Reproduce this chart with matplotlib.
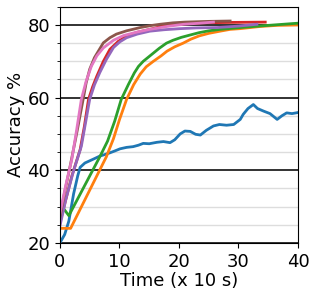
import numpy as np
import matplotlib.pyplot as plt
from matplotlib.ticker import MultipleLocator

# curves (time in units of 10 s, accuracy in %)
blue_t = [0, 0.8, 1.5, 2.3, 3.0, 3.4, 4.2, 5.0, 5.8, 6.7, 7.5, 8.4, 9.2, 10.1, 11.2, 12.3, 13.2,
          14.0, 15.0, 16.3, 17.4, 18.5, 19.3, 20.2, 21.0, 21.9, 22.8, 23.6, 24.6, 25.8, 26.8,
          28.0, 29.2, 30.3, 30.8, 31.6, 32.5, 33.2, 34.2, 35.3, 36.5, 37.3, 38.1, 39.0, 40.0]
blue_y = [20.0, 22.3, 26.0, 33.5, 38.5, 40.8, 42.0, 42.6, 43.2, 43.9, 44.3, 44.8, 45.3, 45.9,
          46.3, 46.5, 46.9, 47.4, 47.3, 47.7, 47.9, 47.6, 48.4, 50.0, 50.8, 50.7, 49.9, 49.7,
          51.0, 52.2, 52.6, 52.4, 52.6, 54.0, 55.4, 57.0, 58.1, 57.0, 56.3, 55.6, 54.0, 55.0,
          55.8, 55.6, 55.9]

orange_t = [0, 1.8, 7.8, 9.0, 10.0, 11.2, 12.4, 13.5, 14.5, 15.7, 17.0, 18.0, 19.3, 20.7,
            22.0, 23.4, 25.0, 26.9, 28.6, 30.3, 32.0, 33.7, 36.5, 40.0]
orange_y = [24.0, 24.0, 43.7, 48.7, 53.9, 59.5, 63.6, 66.5, 68.5, 70.0, 71.5, 72.8, 74.0, 75.0,
            76.1, 77.0, 77.7, 78.3, 78.8, 79.0, 79.3, 79.6, 79.9, 80.0]

green_t = [0, 1.5, 6.7, 8.0, 9.2, 10.3, 11.5, 12.5, 13.2, 14.0, 15.5, 16.7, 17.9, 19.0, 20.4,
           22.0, 23.4, 25.0, 26.9, 30.3, 35.0, 40.0]
green_y = [30.8, 27.5, 43.7, 48.0, 53.5, 59.5, 63.6, 66.8, 68.6, 70.0, 72.0, 73.6, 75.0, 75.8,
           76.6, 77.3, 77.9, 78.4, 78.8, 79.3, 79.9, 80.5]

red_t = [0, 1.0, 2.0, 3.4, 4.1, 4.8, 5.5, 6.2, 7.3, 8.4, 9.8, 11.2, 13.0, 15.1, 17.0, 19.1,
         21.5, 23.6, 28.0, 34.5]
red_y = [25.5, 32.0, 38.4, 45.7, 52.0, 59.5, 63.0, 65.9, 70.0, 73.3, 75.5, 77.0, 78.0, 78.8,
         79.6, 80.2, 80.4, 80.6, 80.7, 80.8]

purple_t = [0, 1.0, 2.2, 3.6, 4.3, 5.0, 5.8, 6.7, 7.8, 9.0, 10.1, 11.2, 13.0, 15.1, 17.5, 20.2,
            23.0, 26.4, 30.0, 33.1]
purple_y = [24.6, 32.0, 39.3, 46.6, 53.0, 59.5, 63.5, 66.9, 70.5, 73.8, 75.4, 76.5, 77.5, 78.3,
            78.7, 79.0, 79.2, 79.3, 79.7, 80.2]

brown_t = [0, 0.8, 1.7, 2.8, 3.9, 4.4, 5.0, 5.8, 7.3, 8.4, 9.5, 11.2, 13.5, 15.5, 16.8, 19.0,
           21.0, 25.0, 28.6]
brown_y = [27.0, 34.0, 41.0, 50.0, 59.5, 64.0, 67.8, 71.0, 75.1, 76.5, 77.5, 78.4, 79.3, 79.9,
           80.2, 80.6, 80.8, 81.0, 81.1]

pink_t = [0, 1.0, 2.0, 2.8, 3.6, 4.4, 5.3, 6.2, 7.3, 9.0, 10.7, 12.8, 15.1, 18.0, 20.8, 23.5,
          25.8]
pink_y = [28.0, 36.0, 43.0, 51.0, 59.5, 64.5, 68.7, 71.5, 73.7, 75.8, 77.1, 78.0, 78.8, 79.6,
          80.2, 80.5, 80.8]

series = [
    (blue_t, blue_y, 'tab:blue'),
    (orange_t, orange_y, 'tab:orange'),
    (green_t, green_y, 'tab:green'),
    (red_t, red_y, 'tab:red'),
    (purple_t, purple_y, 'tab:purple'),
    (brown_t, brown_y, 'tab:brown'),
    (pink_t, pink_y, 'tab:pink'),
]

fig = plt.figure(figsize=(3.17, 2.98), dpi=100)
ax = fig.add_axes([0.189, 0.185, 0.751, 0.792])

ax.yaxis.set_major_locator(MultipleLocator(20))
ax.yaxis.set_minor_locator(MultipleLocator(5))
ax.xaxis.set_major_locator(MultipleLocator(10))
ax.grid(axis='y', which='minor', color='#dddddd', lw=1)
ax.grid(axis='y', which='major', color='#222222', lw=1.3)
ax.set_axisbelow(True)

for t, y, c in series:
    ax.plot(t, y, color=c, lw=2)

ax.set_xlim(0, 40)
ax.set_ylim(20, 85)
ax.tick_params(labelsize=13)
ax.set_xlabel('Time (x 10 s)', fontsize=13, labelpad=1)
ax.set_ylabel('Accuracy %', fontsize=13, labelpad=2)

fig.savefig('out.png', dpi=100)
